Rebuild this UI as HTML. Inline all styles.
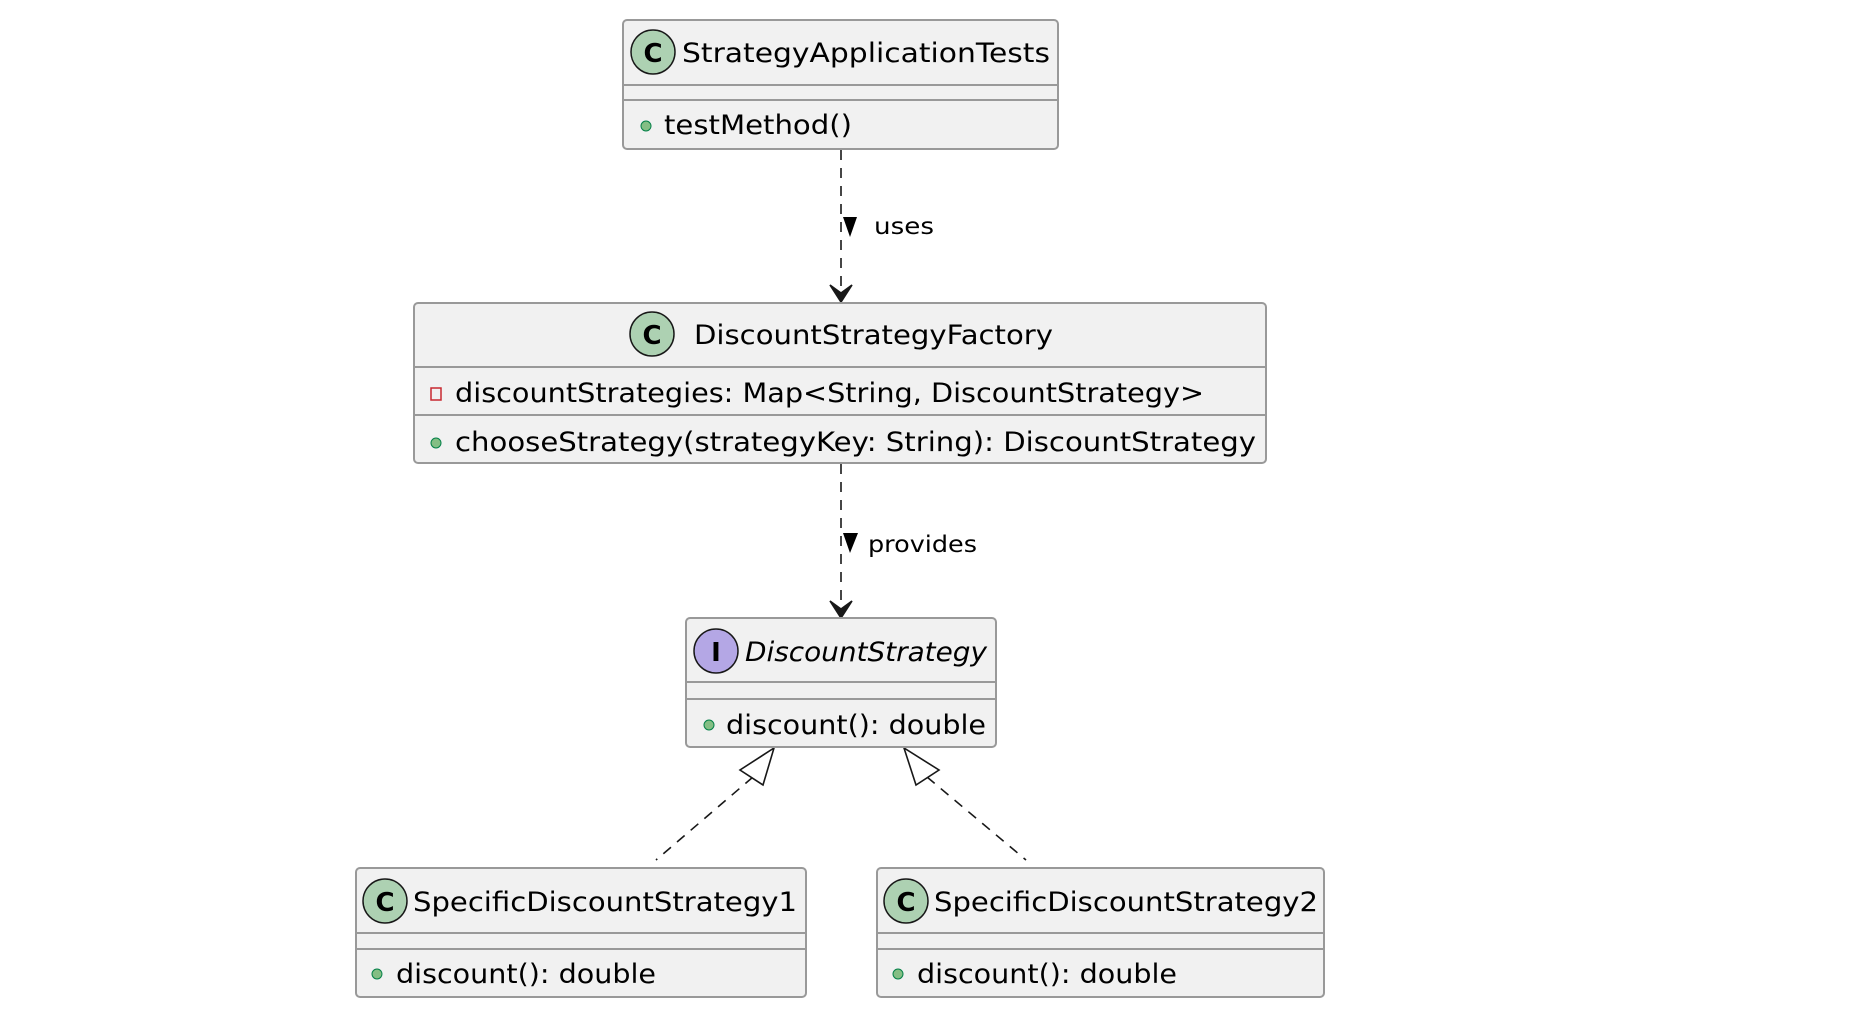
<!DOCTYPE html>
<html><head><meta charset="utf-8"><style>
html,body{margin:0;padding:0;background:#fff;width:1864px;height:1016px;overflow:hidden}
text{font-family:"DejaVu Sans","Liberation Sans",sans-serif;fill:#000}
</style></head><body>
<svg width="1864" height="1016" viewBox="0 0 1864 1016" xmlns="http://www.w3.org/2000/svg">
<g stroke="#181818" stroke-width="1.6" fill="none">
<line x1="841" y1="150" x2="841" y2="300" stroke-dasharray="10,8"/>
<path d="M830,285 L841,302 L852,285 L841,293 Z" fill="#181818"/>
<line x1="841" y1="464" x2="841" y2="615" stroke-dasharray="10,8"/>
<path d="M830,601 L841,618 L852,601 L841,609 Z" fill="#181818"/>
<line x1="753" y1="777" x2="656" y2="860" stroke-dasharray="10,8"/>
<path d="M774,748 L740,770 L763,785 Z" fill="#fff"/>
<line x1="927" y1="777" x2="1026" y2="860" stroke-dasharray="10,8"/>
<path d="M904,748 L916,785 L939,770 Z" fill="#fff"/>
</g>
<path d="M843,217 L857,217 L850,237 Z" fill="#000"/>
<path d="M843,533 L858,533 L850,553 Z" fill="#000"/>
<text x="874" y="234" font-size="23" textLength="60" lengthAdjust="spacingAndGlyphs">uses</text>
<text x="868" y="552" font-size="23" textLength="109" lengthAdjust="spacingAndGlyphs">provides</text>

<g stroke="#999" stroke-width="2" fill="#f1f1f1">
<rect x="623" y="20" width="435" height="129" rx="4"/>
<rect x="414" y="303" width="852" height="160" rx="4"/>
<rect x="686" y="618" width="310" height="129" rx="4"/>
<rect x="356" y="868" width="450" height="129" rx="4"/>
<rect x="877" y="868" width="447" height="129" rx="4"/>
</g>
<g stroke="#999" stroke-width="2">
<line x1="623" y1="85" x2="1058" y2="85"/><line x1="623" y1="100" x2="1058" y2="100"/>
<line x1="414" y1="367" x2="1266" y2="367"/><line x1="414" y1="415" x2="1266" y2="415"/>
<line x1="686" y1="682" x2="996" y2="682"/><line x1="686" y1="699" x2="996" y2="699"/>
<line x1="356" y1="933" x2="806" y2="933"/><line x1="356" y1="949" x2="806" y2="949"/>
<line x1="877" y1="933" x2="1324" y2="933"/><line x1="877" y1="949" x2="1324" y2="949"/>
</g>
<g stroke="#181818" stroke-width="1.5">
<circle cx="653" cy="52" r="22" fill="#add1b2"/>
<circle cx="652" cy="334" r="22" fill="#add1b2"/>
<circle cx="716" cy="651" r="22" fill="#b4a7e5"/>
<circle cx="385" cy="901" r="22" fill="#add1b2"/>
<circle cx="906" cy="901" r="22" fill="#add1b2"/>
</g>
<g font-weight="bold" font-size="26" text-anchor="middle">
<text x="653" y="62">C</text>
<text x="652" y="344">C</text>
<text x="716" y="661" font-family="Liberation Serif">I</text>
<text x="385" y="911">C</text>
<text x="906" y="911">C</text>
</g>
<g font-size="27">
<text x="682" y="62" textLength="368" lengthAdjust="spacingAndGlyphs">StrategyApplicationTests</text>
<text x="694" y="344" textLength="359" lengthAdjust="spacingAndGlyphs">DiscountStrategyFactory</text>
<text x="745" y="661" font-style="italic" textLength="242" lengthAdjust="spacingAndGlyphs">DiscountStrategy</text>
<text x="413" y="911" textLength="384" lengthAdjust="spacingAndGlyphs">SpecificDiscountStrategy1</text>
<text x="934" y="911" textLength="384" lengthAdjust="spacingAndGlyphs">SpecificDiscountStrategy2</text>
</g>
<g fill="#84be84" stroke="#038048" stroke-width="1">
<circle cx="646" cy="126" r="5"/>
<circle cx="436" cy="443" r="5"/>
<circle cx="709" cy="725" r="5"/>
<circle cx="377" cy="974" r="5"/>
<circle cx="898" cy="974" r="5"/>
</g>
<rect x="431" y="388" width="10" height="12" fill="none" stroke="#c82930" stroke-width="1.5"/>
<g font-size="27">
<text x="664" y="134" textLength="188" lengthAdjust="spacingAndGlyphs">testMethod()</text>
<text x="455" y="402" textLength="749" lengthAdjust="spacingAndGlyphs">discountStrategies: Map&lt;String, DiscountStrategy&gt;</text>
<text x="455" y="451" textLength="801" lengthAdjust="spacingAndGlyphs">chooseStrategy(strategyKey: String): DiscountStrategy</text>
<text x="726" y="734" textLength="260" lengthAdjust="spacingAndGlyphs">discount(): double</text>
<text x="396" y="983" textLength="260" lengthAdjust="spacingAndGlyphs">discount(): double</text>
<text x="917" y="983" textLength="260" lengthAdjust="spacingAndGlyphs">discount(): double</text>
</g>
</svg>
</body></html>
